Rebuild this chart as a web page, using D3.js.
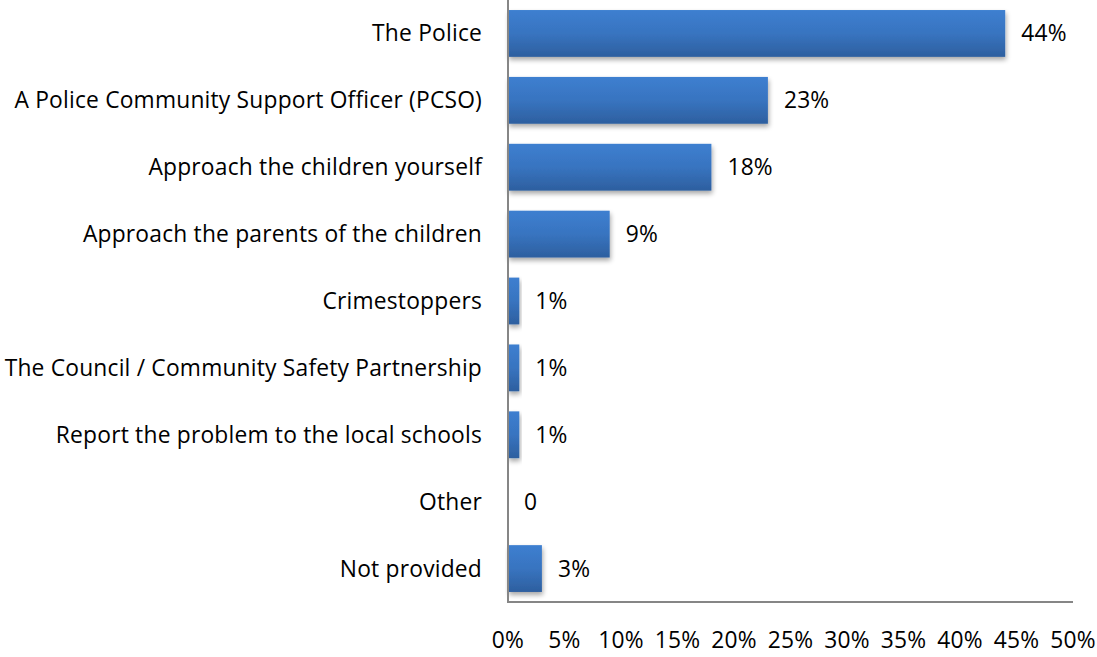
<!DOCTYPE html>
<html><head><meta charset="utf-8">
<script src="https://cdn.jsdelivr.net/npm/d3@7"></script>
<style>body{margin:0;background:#fff}svg{display:block}text{font-family:"Open Sans",sans-serif;fill:#000;letter-spacing:0.2px}</style>
</head><body><svg id="c" width="1097" height="657"></svg>
<script>
const categories = ["The Police","A Police Community Support Officer (PCSO)","Approach the children yourself","Approach the parents of the children","Crimestoppers","The Council / Community Safety Partnership","Report the problem to the local schools","Other","Not provided"];
const values = [44,23,18,9,1,1,1,0,3];
const valueLabels = ["44%","23%","18%","9%","1%","1%","1%","0","3%"];
const tickValues = [0,5,10,15,20,25,30,35,40,45,50];
const tickLabels = ["0%","5%","10%","15%","20%","25%","30%","35%","40%","45%","50%"];

const svg = d3.select("#c");
const x = d3.scaleLinear().domain([0,50]).range([508,1073]);
const y = d3.scaleBand().domain(categories).range([0,602]).paddingInner(0.3).paddingOuter(0.15);
const fs = 22.8;

const defs = svg.append("defs");
const g = defs.append("linearGradient").attr("id","bg").attr("x1",0).attr("y1",0).attr("x2",0).attr("y2",1);
g.append("stop").attr("offset","0%").attr("stop-color","#3d7fd0");
g.append("stop").attr("offset","50%").attr("stop-color","#3874c0");
g.append("stop").attr("offset","100%").attr("stop-color","#2d5f9f");
const f = defs.append("filter").attr("id","sh").attr("x","-10%").attr("y","-10%").attr("width","130%").attr("height","140%");
f.append("feGaussianBlur").attr("in","SourceAlpha").attr("stdDeviation",2.5);
f.append("feOffset").attr("dx",1).attr("dy",3).attr("result","b");
f.append("feComponentTransfer").append("feFuncA").attr("type","linear").attr("slope",0.35);
const m = f.append("feMerge"); m.append("feMergeNode"); m.append("feMergeNode").attr("in","SourceGraphic");

svg.append("g").selectAll("rect").data(values).join("rect")
  .attr("x", x(0)).attr("y",(d,i)=>y(categories[i]))
  .attr("width", d=>x(d)-x(0)).attr("height", y.bandwidth())
  .attr("fill","url(#bg)").attr("filter","url(#sh)");

svg.append("g").selectAll("text").data(values).join("text")
  .attr("x", d=>x(d)+16).attr("y",(d,i)=>y(categories[i])+y.bandwidth()/2)
  .attr("dy","0.35em").attr("font-size",fs).text((d,i)=>valueLabels[i]);

svg.append("g").selectAll("text").data(categories).join("text")
  .attr("x",482).attr("y",d=>y(d)+y.bandwidth()/2).attr("dy","0.35em")
  .attr("text-anchor","end").attr("font-size",fs).text(d=>d);

svg.append("line").attr("x1",x(0)).attr("x2",x(0)).attr("y1",0).attr("y2",602).attr("stroke","#868686").attr("stroke-width",2);
svg.append("line").attr("x1",x(0)-1).attr("x2",x(50)).attr("y1",602).attr("y2",602).attr("stroke","#868686").attr("stroke-width",2);

svg.append("g").selectAll("text").data(tickValues).join("text")
  .attr("x",d=>x(d)).attr("y",640).attr("dy","0.35em").attr("text-anchor","middle")
  .attr("font-size",fs).text((d,i)=>tickLabels[i]);
</script></body></html>
